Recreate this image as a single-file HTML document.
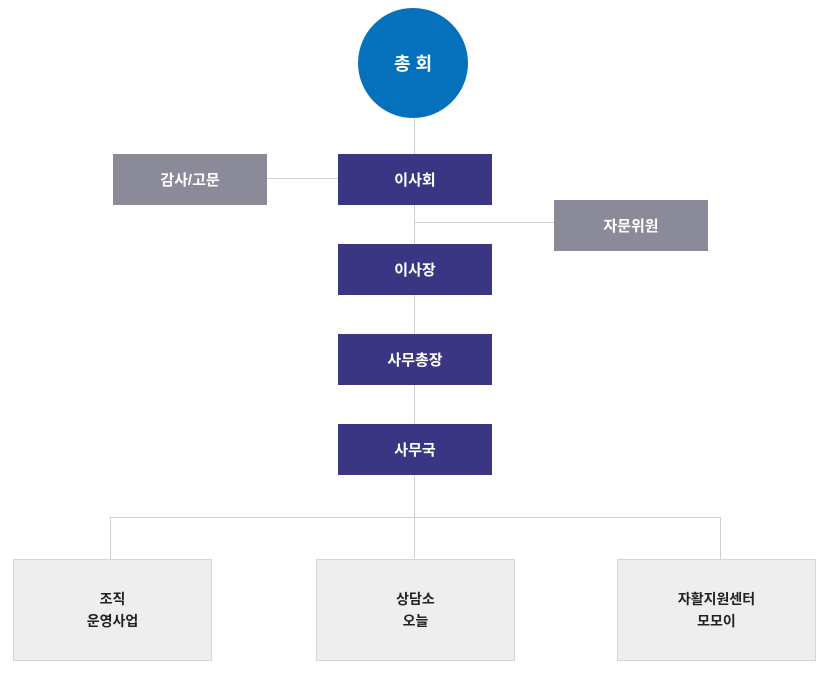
<!DOCTYPE html>
<html><head><meta charset="utf-8"><style>
body{margin:0;width:830px;height:680px;background:#fff;position:relative;overflow:hidden;font-family:"Liberation Sans","Noto Sans CJK KR",sans-serif}
.l{position:absolute;background:#cfcfcf}
.b{position:absolute;display:flex;align-items:center;justify-content:center;color:#fff;font-weight:bold;font-size:15px;text-align:center}
.p{background:#3b3683;width:154px;height:51px;left:338px}
.g{background:#8a8a99;width:154px;height:51px}
.w{background:#eeeeee;border:1px solid #d6d6d6;width:197px;height:100px;top:559px;color:#222;line-height:22px;font-size:14px}
</style></head><body>
<div class="l" style="left:414px;top:110px;width:1px;height:448px"></div>
<div class="l" style="left:267px;top:178px;width:71px;height:1px"></div>
<div class="l" style="left:414px;top:222px;width:140px;height:1px"></div>
<div class="l" style="left:110px;top:517px;width:611px;height:1px"></div>
<div class="l" style="left:110px;top:517px;width:1px;height:42px"></div>
<div class="l" style="left:720px;top:517px;width:1px;height:42px"></div>
<div class="b" style="left:358px;top:8px;width:110px;height:110px;border-radius:50%;background:#0571bd;font-size:18px">총 회</div>
<div class="b g" style="left:113px;top:154px">감사/고문</div>
<div class="b p" style="top:154px">이사회</div>
<div class="b g" style="left:554px;top:200px">자문위원</div>
<div class="b p" style="top:244px">이사장</div>
<div class="b p" style="top:334px">사무총장</div>
<div class="b p" style="top:424px">사무국</div>
<div class="b w" style="left:13px">조직<br>운영사업</div>
<div class="b w" style="left:316px">상담소<br>오늘</div>
<div class="b w" style="left:617px">자활지원센터<br>모모이</div>
</body></html>
